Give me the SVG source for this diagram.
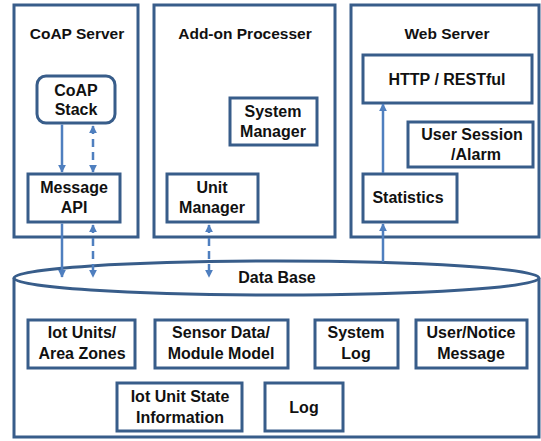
<svg xmlns="http://www.w3.org/2000/svg" width="541" height="441" viewBox="0 0 541 441">
  <defs>
    <marker id="ah" viewBox="0 0 10 10" refX="9" refY="5" markerWidth="3.3" markerHeight="3.1" orient="auto-start-reverse" markerUnits="strokeWidth">
      <path d="M0,0 L10,5 L0,10 z" fill="#4f7fbf"/>
    </marker>
    <style>
      .frame { fill: #ffffff; stroke: #385d8a; stroke-width: 3; }
      .box { fill: #ffffff; stroke: #385d8a; stroke-width: 3; }
      .title { font-family: "Liberation Sans", Arial, sans-serif; font-weight: bold; font-size: 15.5px; fill: #111111; text-anchor: middle; }
      .lbl { font-family: "Liberation Sans", Arial, sans-serif; font-weight: bold; font-size: 16px; fill: #111111; text-anchor: middle; }
      .solid { stroke: #4f7fbf; stroke-width: 2.5; fill: none; }
      .dash { stroke: #4f7fbf; stroke-width: 2.5; fill: none; stroke-dasharray: 8 5; }
    </style>
  </defs>
  <rect width="541" height="441" fill="#ffffff"/>

  <!-- database cylinder -->
  <g id="database">
    <path class="frame" d="M14,278 L14,437 L539,437 L539,278"/>
    <ellipse class="frame" cx="276.5" cy="278" rx="262.5" ry="17"/>
    <text class="lbl" x="277" y="283">Data Base</text>
  </g>

  <!-- CoAP server -->
  <g id="coap-server">
    <rect class="frame" x="14" y="5" width="124" height="232"/>
    <text class="title" x="77" y="39">CoAP Server</text>
  </g>
  <g id="coap-stack">
    <rect class="box" x="37" y="76" width="78" height="47" rx="9"/>
    <text class="lbl" x="76" y="96">CoAP</text>
    <text class="lbl" x="76" y="115">Stack</text>
  </g>
  <g id="message-api">
    <rect class="box" x="28" y="174" width="92" height="48"/>
    <text class="lbl" x="74" y="193">Message</text>
    <text class="lbl" x="74" y="213">API</text>
  </g>

  <!-- Add-on processer -->
  <g id="addon-processer">
    <rect class="frame" x="154" y="5" width="181" height="232"/>
    <text class="title" x="245" y="39">Add-on Processer</text>
  </g>
  <g id="system-manager">
    <rect class="box" x="230" y="98" width="87" height="47"/>
    <text class="lbl" x="273" y="117">System</text>
    <text class="lbl" x="273" y="137">Manager</text>
  </g>
  <g id="unit-manager">
    <rect class="box" x="167" y="174" width="91" height="48"/>
    <text class="lbl" x="212" y="193">Unit</text>
    <text class="lbl" x="212" y="213">Manager</text>
  </g>

  <!-- Web server -->
  <g id="web-server">
    <rect class="frame" x="351" y="5" width="188" height="232"/>
    <text class="title" x="447" y="39">Web Server</text>
  </g>
  <g id="http-restful">
    <rect class="box" x="363" y="55" width="169" height="48"/>
    <text class="lbl" x="447" y="85">HTTP / RESTful</text>
  </g>
  <g id="user-session">
    <rect class="box" x="408" y="122" width="125" height="45"/>
    <text class="lbl" x="472" y="140">User Session</text>
    <text class="lbl" x="476" y="160">/Alarm</text>
  </g>
  <g id="statistics">
    <rect class="box" x="363" y="174" width="94" height="48"/>
    <text class="lbl" x="408" y="203">Statistics</text>
  </g>

  <!-- database contents -->
  <g id="iot-units">
    <rect class="box" x="28" y="320" width="107" height="48"/>
    <text class="lbl" x="82" y="338">Iot Units/</text>
    <text class="lbl" x="82" y="359">Area Zones</text>
  </g>
  <g id="sensor-data">
    <rect class="box" x="155" y="320" width="133" height="48"/>
    <text class="lbl" x="221" y="338">Sensor Data/</text>
    <text class="lbl" x="221" y="359">Module Model</text>
  </g>
  <g id="system-log">
    <rect class="box" x="315" y="320" width="83" height="48"/>
    <text class="lbl" x="356" y="338">System</text>
    <text class="lbl" x="356" y="359">Log</text>
  </g>
  <g id="user-notice">
    <rect class="box" x="416" y="320" width="111" height="48"/>
    <text class="lbl" x="471" y="338">User/Notice</text>
    <text class="lbl" x="471" y="359">Message</text>
  </g>
  <g id="iot-unit-state">
    <rect class="box" x="117" y="383" width="125" height="48"/>
    <text class="lbl" x="180" y="402">Iot Unit State</text>
    <text class="lbl" x="180" y="423">Information</text>
  </g>
  <g id="log">
    <rect class="box" x="265" y="383" width="78" height="48"/>
    <text class="lbl" x="304" y="413">Log</text>
  </g>

  <!-- connectors -->
  <g id="connectors">
    <line class="solid" x1="62" y1="124.5" x2="62" y2="172" marker-end="url(#ah)"/>
    <line class="dash" x1="93" y1="126" x2="93" y2="172" marker-start="url(#ah)" marker-end="url(#ah)"/>
    <line class="solid" x1="62" y1="223.5" x2="62" y2="277" marker-end="url(#ah)"/>
    <line class="dash" x1="93" y1="225" x2="93" y2="277" marker-start="url(#ah)" marker-end="url(#ah)"/>
    <line class="dash" x1="209" y1="225" x2="209" y2="277" marker-start="url(#ah)" marker-end="url(#ah)"/>
    <line class="solid" x1="383" y1="262" x2="383" y2="224" marker-end="url(#ah)"/>
    <line class="solid" x1="383" y1="173" x2="383" y2="104" marker-end="url(#ah)"/>
  </g>
</svg>
